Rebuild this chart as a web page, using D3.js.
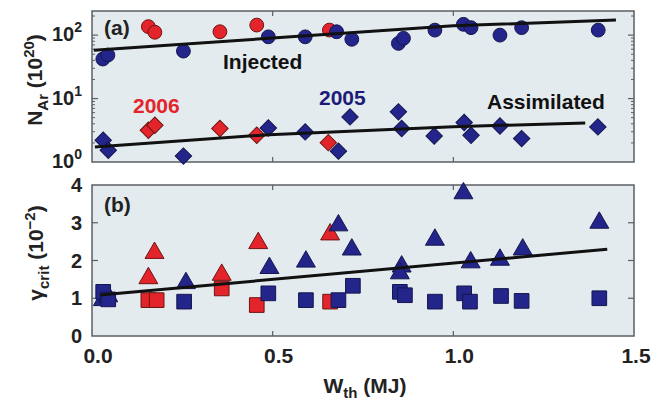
<!DOCTYPE html>
<html>
<head>
<meta charset="utf-8" />
<script src="https://d3js.org/d3.v7.min.js"></script>
<style>
  body { margin: 0; background: #fff; }
  svg { display: block; font-family: "Liberation Sans", Arial, sans-serif; font-weight: bold; }
</style>
</head>
<body>
<svg id="chart" width="652" height="403"></svg>
<script>
// ---- data ----
// panel (a): injected (circles) and assimilated (diamonds), [Wth MJ, N_Ar 1e20]
var injected2006 = [[0.156, 136], [0.174, 111], [0.354, 113], [0.456, 144], [0.657, 120]];
var injected2005 = [[0.030, 42], [0.044, 48.5], [0.253, 56], [0.488, 94], [0.590, 94], [0.677, 113],
  [0.719, 86], [0.848, 74], [0.862, 89], [0.949, 120], [1.028, 148], [1.049, 131],
  [1.129, 100], [1.189, 131], [1.401, 120]];
var assim2006 = [[0.156, 3.17], [0.174, 3.8], [0.354, 3.37], [0.456, 2.64], [0.654, 2.02]];
var assim2005 = [[0.031, 2.2], [0.045, 1.53], [0.253, 1.24], [0.488, 3.44], [0.590, 2.98],
  [0.714, 5.14], [0.682, 1.48], [0.848, 6.17], [0.857, 3.37], [0.947, 2.57],
  [1.030, 4.19], [1.049, 2.64], [1.129, 3.7], [1.189, 2.34], [1.400, 3.57]];
var injectedFit = [[0.005, 58], [0.5, 90], [1.0, 140], [1.45, 173]];
var assimFit = [[0.008, 1.73], [0.49, 2.7], [1.0, 3.6], [1.365, 4.13]];

// panel (b): gamma_crit (1e-2), triangles and squares
var tri2006 = [[0.156, 1.53], [0.173, 2.2], [0.359, 1.62], [0.460, 2.46], [0.659, 2.69]];
var tri2005 = [[0.030, 0.95], [0.045, 1.05], [0.260, 1.40], [0.491, 1.80], [0.592, 1.97],
  [0.682, 2.93], [0.719, 2.29], [0.857, 1.84], [0.852, 1.66], [0.949, 2.55],
  [1.028, 3.78], [1.048, 1.95], [1.129, 2.02], [1.192, 2.29], [1.404, 3.0]];
var sq2006 = [[0.156, 0.95], [0.179, 0.95], [0.359, 1.26], [0.456, 0.82], [0.659, 0.91]];
var sq2005 = [[0.031, 1.17], [0.045, 0.97], [0.255, 0.91], [0.488, 1.13], [0.592, 0.95],
  [0.682, 0.95], [0.722, 1.33], [0.852, 1.17], [0.866, 1.08], [0.949, 0.91],
  [1.030, 1.13], [1.046, 0.91], [1.132, 1.06], [1.189, 0.93], [1.404, 1.0]];
var gammaFit = [[0.022, 1.085], [1.426, 2.30]];

var xTicks = [0, 0.5, 1.0, 1.5];
var xTickLabels = ["0.0", "0.5", "1.0", "1.5"];
var topTicks = [1, 10, 100];
var topTickExp = ["0", "1", "2"];
var botTicks = [0, 1, 2, 3, 4];

// ---- layout ----
var svg = d3.select("#chart");
var red = "#e3242b", redEdge = "#6e1414";
var blue = "#23258a", blueEdge = "#14164f";
var frame = "#5b5f63", panelBg = "#e4ebee";

var x = d3.scaleLinear().domain([0, 1.5]).range([92, 634]);
var yTop = d3.scaleLog().domain([1, 240]).range([162, 11]);
var yBot = d3.scaleLinear().domain([0, 4]).range([336, 185]);

function panel(y0, y1) {
  svg.append("rect")
    .attr("x", x(0)).attr("y", y0)
    .attr("width", x(1.5) - x(0)).attr("height", y1 - y0)
    .attr("fill", panelBg).attr("stroke", frame).attr("stroke-width", 1.5);
  // inner x ticks top and bottom
  svg.append("g").selectAll("line")
    .data(xTicks.slice(1, 3)).enter().append("line")
    .attr("x1", d => x(d)).attr("x2", d => x(d))
    .attr("y1", y1).attr("y2", y1 - 5)
    .attr("stroke", frame).attr("stroke-width", 1.2);
  svg.append("g").selectAll("line")
    .data(xTicks.slice(1, 3)).enter().append("line")
    .attr("x1", d => x(d)).attr("x2", d => x(d))
    .attr("y1", y0).attr("y2", y0 + 5)
    .attr("stroke", frame).attr("stroke-width", 1.2);
}
panel(yTop.range()[1], yTop.range()[0]);
panel(yBot.range()[1], yBot.range()[0]);

// log minor / major ticks on panel (a)
var minor = [];
[1, 10, 100].forEach(function (dec) {
  for (var m = 2; m <= 9; m++) if (dec * m < 240) minor.push(dec * m);
});
[x(0), x(1.5)].forEach(function (px, i) {
  var s = i == 0 ? 1 : -1;
  svg.append("g").selectAll("line").data(minor).enter().append("line")
    .attr("x1", px).attr("x2", px + s * 3)
    .attr("y1", d => yTop(d)).attr("y2", d => yTop(d))
    .attr("stroke", frame).attr("stroke-width", 1);
  svg.append("g").selectAll("line").data(topTicks.slice(1)).enter().append("line")
    .attr("x1", px).attr("x2", px + s * 6)
    .attr("y1", d => yTop(d)).attr("y2", d => yTop(d))
    .attr("stroke", frame).attr("stroke-width", 1.2);
  svg.append("g").selectAll("line").data(botTicks.slice(1, 4)).enter().append("line")
    .attr("x1", px).attr("x2", px + s * 6)
    .attr("y1", d => yBot(d)).attr("y2", d => yBot(d))
    .attr("stroke", frame).attr("stroke-width", 1.2);
});

// tick labels
svg.append("g").selectAll("text").data(xTicks).enter().append("text")
  .attr("x", (d, i) => i == 3 ? 636 : x(d) + 6).attr("y", 363)
  .attr("text-anchor", "middle").attr("font-size", 21).attr("fill", "#222")
  .text((d, i) => xTickLabels[i]);

var topLab = svg.append("g").selectAll("text").data(topTicks).enter().append("text")
  .attr("x", 82).attr("y", d => yTop(d) + 6)
  .attr("text-anchor", "end").attr("font-size", 20).attr("fill", "#222");
topLab.append("tspan").text("10");
topLab.append("tspan").attr("dy", -9).attr("font-size", 14).text((d, i) => topTickExp[i]);

svg.append("g").selectAll("text").data(botTicks).enter().append("text")
  .attr("x", 82).attr("y", d => yBot(d) + 7)
  .attr("text-anchor", "end").attr("font-size", 20).attr("fill", "#222")
  .text(d => d);

// axis titles
var t1 = svg.append("text").attr("transform", "translate(42,80) rotate(-90)")
  .attr("text-anchor", "middle").attr("font-size", 21).attr("fill", "#222");
t1.append("tspan").text("N");
t1.append("tspan").attr("dy", 6).attr("font-size", 15).text("Ar");
t1.append("tspan").attr("dy", -6).text(" (10");
t1.append("tspan").attr("dy", -8).attr("font-size", 15).text("20");
t1.append("tspan").attr("dy", 8).text(")");

var t2 = svg.append("text").attr("transform", "translate(43,253) rotate(-90)")
  .attr("text-anchor", "middle").attr("font-size", 21).attr("fill", "#222");
t2.append("tspan").text("\u03b3");
t2.append("tspan").attr("dy", 6).attr("font-size", 15).text("crit");
t2.append("tspan").attr("dy", -6).text(" (10");
t2.append("tspan").attr("dy", -8).attr("font-size", 15).text("\u22122");
t2.append("tspan").attr("dy", 8).text(")");

var t3 = svg.append("text").attr("x", 365).attr("y", 393)
  .attr("text-anchor", "middle").attr("font-size", 21).attr("fill", "#222");
t3.append("tspan").text("W");
t3.append("tspan").attr("dy", 5).attr("font-size", 15).text("th");
t3.append("tspan").attr("dy", -5).text(" (MJ)");

// markers
function markers(data, yScale, type, size, rot, fill, edge) {
  svg.append("g").selectAll("path").data(data).enter().append("path")
    .attr("d", d3.symbol().type(type).size(size))
    .attr("transform", d => "translate(" + x(d[0]) + "," + yScale(d[1]) + ") rotate(" + rot + ")")
    .attr("fill", fill).attr("stroke", edge).attr("stroke-width", 1);
}
markers(injected2006, yTop, d3.symbolCircle, 150, 0, red, redEdge);
markers(injected2005, yTop, d3.symbolCircle, 150, 0, blue, blueEdge);
markers(assim2006, yTop, d3.symbolSquare, 135, 45, red, redEdge);
markers(assim2005, yTop, d3.symbolSquare, 135, 45, blue, blueEdge);
markers(tri2006, yBot, d3.symbolTriangle, 155, 0, red, redEdge);
markers(sq2006, yBot, d3.symbolSquare, 215, 0, red, redEdge);
markers(tri2005, yBot, d3.symbolTriangle, 155, 0, blue, blueEdge);
markers(sq2005, yBot, d3.symbolSquare, 215, 0, blue, blueEdge);

// fit lines
function fit(data, yScale) {
  svg.append("path").datum(data)
    .attr("d", d3.line().x(d => x(d[0])).y(d => yScale(d[1])))
    .attr("fill", "none").attr("stroke", "#111").attr("stroke-width", 3);
}
fit(injectedFit, yTop);
fit(assimFit, yTop);
fit(gammaFit, yBot);

// panel annotations
svg.append("text").attr("x", 104).attr("y", 35).attr("font-size", 21).attr("fill", "#222").text("(a)");
svg.append("text").attr("x", 104).attr("y", 212).attr("font-size", 21).attr("fill", "#222").text("(b)");
svg.append("text").attr("x", 223).attr("y", 69).attr("font-size", 21).attr("fill", "#111").text("Injected");
svg.append("text").attr("x", 487).attr("y", 109).attr("font-size", 21).attr("fill", "#111").text("Assimilated");
svg.append("text").attr("x", 133).attr("y", 113).attr("font-size", 21).attr("fill", red).text("2006");
svg.append("text").attr("x", 319).attr("y", 105).attr("font-size", 21).attr("fill", "#1c1c78").text("2005");
</script>
</body>
</html>
